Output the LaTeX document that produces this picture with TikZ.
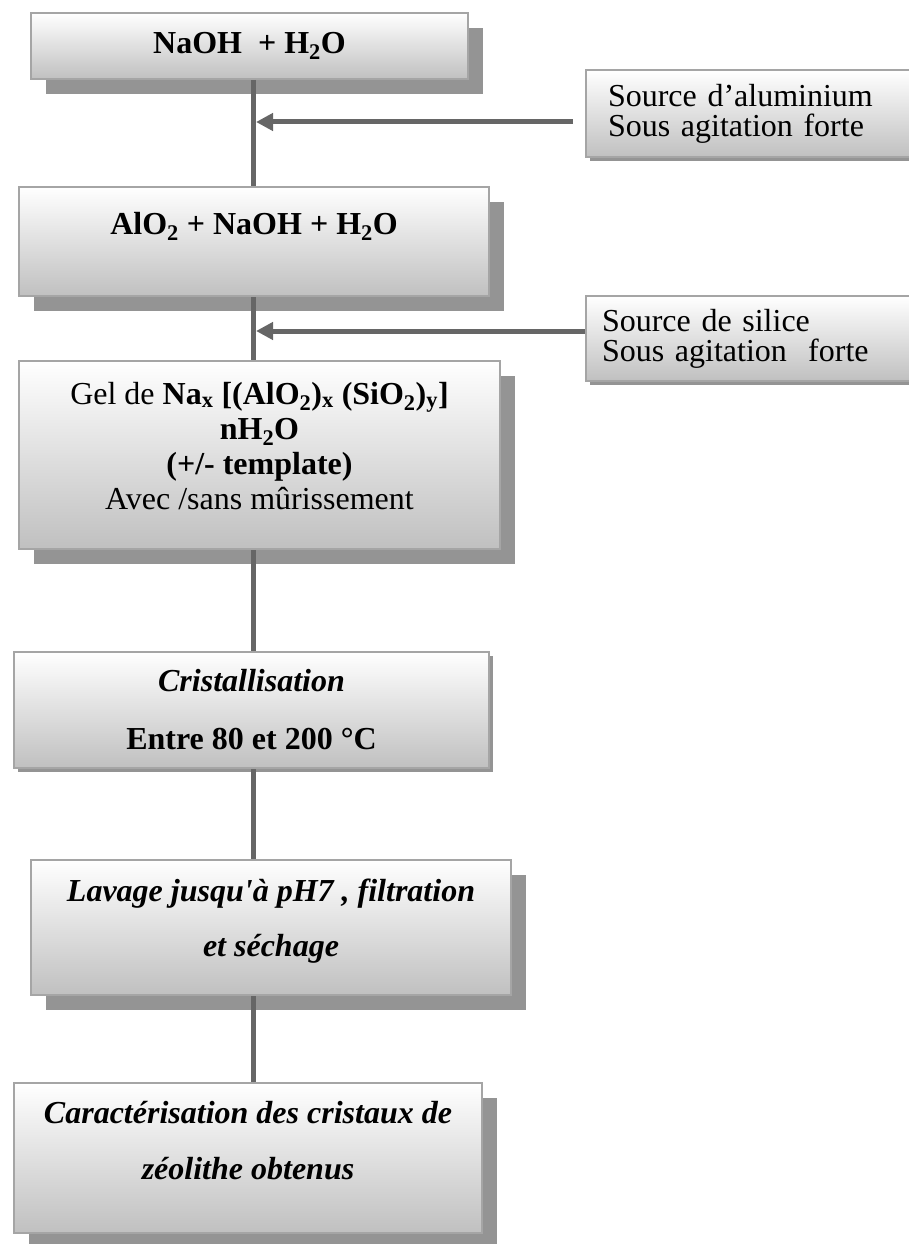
\documentclass[tikz,border=0pt]{standalone}
\usepackage{fontspec}
\setmainfont{Liberation Serif}[Ligatures=TeXOff]
\usepackage{tikz}
\usetikzlibrary{calc, positioning, shadows, arrows.meta}

\definecolor{boxedge}{RGB}{165,165,165}
\definecolor{boxshade}{RGB}{148,148,148}
\definecolor{boxbottom}{RGB}{192,192,192}
\definecolor{linkgrey}{RGB}{102,102,102}

\newcommand{\chemsub}[1]{\textsubscript{#1}}
\newcommand{\lowpad}[1]{\rule[-#1]{0pt}{#1}}

\begin{document}
\begin{tikzpicture}[x=1pt, y=-1pt,
        stagebox/.style={draw=boxedge, line width=2pt, top color=white, bottom color=boxbottom,
            anchor=north west, align=center, inner sep=0pt, font=\fontsize{32}{35}\selectfont},
        deepshadow/.style={drop shadow={shadow xshift=15pt, shadow yshift=-15pt, fill=boxshade, opacity=1}},
        flatshadow/.style={drop shadow={shadow xshift=4pt, shadow yshift=-4pt, fill=boxshade, opacity=1}},
        sourcebox/.style={stagebox, flatshadow, align=left, text width=310pt, font=\fontsize{32}{30}\selectfont},
        link/.style={line width=5pt, linkgrey},
        feed/.style={link, -{Triangle[length=17pt, width=17pt]}}]
    \useasboundingbox (0,0) rectangle (908,1244);

    % main chain
    \node[stagebox, deepshadow, minimum width=437pt, minimum height=66pt] (naoh) at (30,12)
        {\textbf{NaOH\ \ + H\chemsub{2}O}};
    \node[stagebox, deepshadow, minimum width=470pt, minimum height=109pt] (alu) at (18,186)
        {\textbf{AlO\chemsub{2} + NaOH + H\chemsub{2}O}\lowpad{37pt}};
    \node[stagebox, deepshadow, minimum width=481pt, minimum height=188pt] (gel) at (18,360)
        {Gel de \textbf{Na\chemsub{x} [(AlO\chemsub{2})\chemsub{x} (SiO\chemsub{2})\chemsub{y}]} \\
         \textbf{nH\chemsub{2}O} \\ \textbf{(+/- template)} \\ Avec /sans mûrissement\lowpad{19pt}};
    \node[stagebox, flatshadow, font=\fontsize{32}{58}\selectfont, minimum width=475pt, minimum height=116pt] (cris) at (13,651)
        {\textbf{\textit{Cristallisation}} \\ \textbf{Entre 80 et 200 °C}};
    \node[stagebox, deepshadow, font=\fontsize{32}{55}\selectfont, minimum width=480pt, minimum height=135pt] (lav) at (30,859)
        {\textbf{\textit{Lavage jusqu'à pH7 , filtration}} \\ \textbf{\textit{et séchage}}\lowpad{20pt}};
    \node[stagebox, deepshadow, font=\fontsize{32}{56}\selectfont, minimum width=468pt, minimum height=150pt] (car) at (13,1082)
        {\textbf{\textit{Caractérisation des cristaux de}} \\ \textbf{\textit{zéolithe obtenus}}\lowpad{36pt}};

    % side inputs
    \node[sourcebox, inner xsep=22pt, minimum height=87pt] (srcal) at (585,69)
        {Source d’aluminium \\ Sous agitation forte};
    \node[sourcebox, inner xsep=16pt, minimum height=85pt] (srcsi) at (585,295)
        {Source de silice \\ Sous agitation\ \ forte};

    \coordinate (spine) at (253,0);
    \coordinate (inal) at (256,122);
    \coordinate (insi) at (256,331);

    \draw[link] (naoh.south -| spine) to (alu.north -| spine);
    \draw[link] (alu.south -| spine) to (gel.north -| spine);
    \draw[link] (gel.south -| spine) to (cris.north -| spine);
    \draw[link] (cris.south -| spine) to (lav.north -| spine);
    \draw[link] (lav.south -| spine) to (car.north -| spine);

    \draw[feed] ($(srcal.west |- inal)+(-12,0)$) to (inal);
    \draw[feed] (srcsi.west |- insi) to (insi);
\end{tikzpicture}
\end{document}
